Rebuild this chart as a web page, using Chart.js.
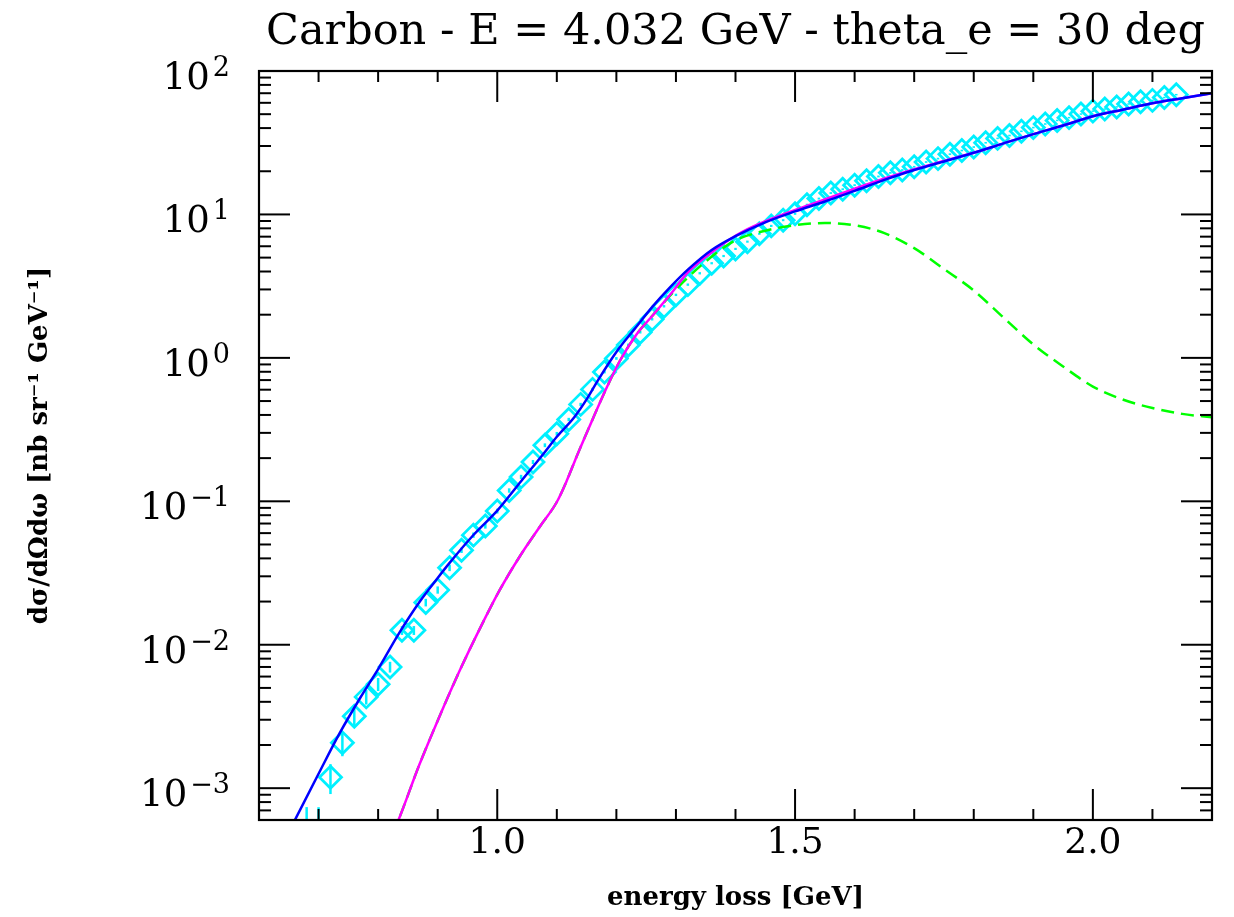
<!DOCTYPE html>
<html><head><meta charset="utf-8">
<script src="https://cdn.jsdelivr.net/npm/chart.js@4.4.1/dist/chart.umd.min.js"></script>
<style>html,body{margin:0;padding:0;background:#fff;}#wrap{width:1234px;height:917px;}</style>
</head><body><div id="wrap"><canvas id="c" width="1234" height="917"></canvas></div>
<script>
const titleText = 'Carbon - E = 4.032 GeV - theta_e = 30 deg';
const xTitleText = 'energy loss [GeV]';
const yTitleText = 'dσ/dΩdω [nb sr⁻¹ GeV⁻¹]';
const xMajorTicks = [1.0, 1.5, 2.0];
const xMinorTicks = [0.7, 0.8, 0.9, 1.1, 1.2, 1.3, 1.4, 1.6, 1.7, 1.8, 1.9, 2.1];
const yTickExponents = [-3, -2, -1, 0, 1, 2];
const yMinorMultipliers = [2, 3, 4, 5, 6, 7, 8, 9];

// measured cross sections (cyan diamonds)
const dataE = [0.68,0.70,0.72,0.74,0.76,0.78,0.80,0.82,0.84,0.86,0.88,0.90,0.92,0.94,0.96,0.98,
  1.00,1.02,1.04,1.06,1.08,1.10,1.12,1.14,1.16,1.18,1.20,1.22,1.24,1.26,1.28,1.30,1.32,1.34,1.36,1.38,
  1.40,1.42,1.44,1.46,1.48,1.50,1.52,1.54,1.56,1.58,1.60,1.62,1.64,1.66,1.68,1.70,1.72,1.74,1.76,1.78,
  1.80,1.82,1.84,1.86,1.88,1.90,1.92,1.94,1.96,1.98,2.00,2.02,2.04,2.06,2.08,2.10,2.12,2.14];
const dataXS = [3.98e-4,4.47e-4,1.19e-3,2.07e-3,3.17e-3,4.33e-3,5.31e-3,7.00e-3,1.26e-2,1.26e-2,1.97e-2,2.41e-2,3.44e-2,4.56e-2,5.81e-2,6.73e-2,
  8.55e-2,0.119,0.148,0.188,0.246,0.296,0.372,0.474,0.603,0.798,0.991,1.23,1.51,1.86,2.29,2.75,3.24,3.89,4.57,5.13,
  5.75,6.46,7.33,8.32,9.12,10.1,11.7,12.9,14.1,15.0,16.0,17.2,18.4,19.5,20.4,21.5,23.2,24.5,26.3,27.9,
  29.5,31.6,33.9,35.5,38.0,40.3,42.7,45.2,47.3,50.1,52.5,54.3,56.2,58.9,61.0,62.4,65.3,68.4];
const dataErr = [3.4e-4,2.9e-4,2.8e-4,4.0e-4,4.5e-4,5.0e-4,5.5e-4,6.0e-4,9.0e-4,9.0e-4,1.2e-3,1.4e-3,1.8e-3,2.0e-3,2.5e-3,2.8e-3,
  3.3e-3,4.2e-3,5.0e-3,6.0e-3,7.5e-3,8.5e-3,0.010,0.012,0.015,0.019,0.022,0.027,0.032,0.038,0.045,0.053,0.061,0.072,0.080,0.090,
  0.10,0.11,0.12,0.14,0.15,0.16,0.18,0.20,0.21,0.22,0.24,0.25,0.27,0.28,0.29,0.30,0.32,0.34,0.36,0.38,
  0.40,0.42,0.44,0.46,0.49,0.51,0.54,0.56,0.58,0.61,0.63,0.65,0.67,0.70,0.72,0.74,0.77,0.80];

// full model (blue)
const totalE  = [0.64,0.66,0.70,0.735,0.77,0.80,0.835,0.87,0.90,0.92,0.96,1.00,1.04,1.08,1.10,1.13,1.15,1.17,1.20,1.23,1.26,1.29,1.32,1.36,1.40,1.45,1.50,1.55,1.60,1.65,1.70,1.75,1.80,1.85,1.90,1.95,2.00,2.05,2.10,2.15,2.20];
const totalXS = [4.07e-4,5.96e-4,1.26e-3,2.40e-3,4.27e-3,6.76e-3,1.20e-2,2.00e-2,2.92e-2,3.72e-2,5.82e-2,8.61e-2,0.138,0.221,0.282,0.389,0.513,0.708,1.10,1.58,2.26,3.10,4.12,5.65,7.05,8.81,10.5,12.3,14.6,17.4,20.4,23.4,26.9,31.3,36.3,41.7,48.4,53.7,59.6,64.6,70.0];

// model without tail (magenta)
const altE  = [0.81,0.834,0.869,0.903,0.937,0.971,1.004,1.038,1.072,1.10,1.117,1.133,1.16,1.184,1.206,1.234,1.262,1.296,1.32,1.37,1.41,1.47,1.53,1.60,1.65,1.70,1.75,1.80,1.85,1.90,1.95,2.00,2.05,2.10,2.15,2.20];
const altXS = [3.55e-4,5.97e-4,1.45e-3,3.16e-3,6.61e-3,1.30e-2,2.40e-2,4.14e-2,6.70e-2,9.89e-2,0.140,0.204,0.372,0.624,0.955,1.46,2.00,2.95,3.95,5.85,7.50,9.66,11.9,15.1,17.8,20.7,23.6,26.9,31.3,36.3,41.7,48.4,53.7,59.6,64.6,70.0];

// quasi-elastic part (green dashed)
const qeE  = [0.81,0.834,0.869,0.903,0.937,0.971,1.004,1.038,1.072,1.10,1.117,1.133,1.16,1.184,1.206,1.234,1.262,1.30,1.35,1.40,1.45,1.50,1.55,1.60,1.65,1.70,1.75,1.80,1.85,1.90,1.95,2.00,2.05,2.10,2.15,2.20];
const qeXS = [3.55e-4,5.97e-4,1.45e-3,3.16e-3,6.61e-3,1.30e-2,2.40e-2,4.14e-2,6.70e-2,9.89e-2,0.140,0.204,0.372,0.624,0.955,1.46,2.00,3.00,4.70,6.60,7.70,8.41,8.71,8.41,7.41,5.82,4.17,2.95,1.91,1.24,0.871,0.631,0.513,0.447,0.407,0.385];

const toPts = (xs, ys) => xs.map((x, i) => ({x: x, y: ys[i]}));
const SERIF = "'DejaVu Serif', 'Liberation Serif', serif";

const framePlugin = {
  id: 'frame',
  beforeDatasetsDraw(chart) {
    const {ctx, chartArea: a, scales: {x, y}} = chart;
    ctx.save();
    ctx.beginPath(); ctx.rect(a.left, a.top, a.right - a.left, a.bottom - a.top); ctx.clip();
    ctx.strokeStyle = '#00f0ff'; ctx.lineWidth = 2.5;
    dataE.forEach((e, i) => {
      const px = x.getPixelForValue(e);
      const lo = Math.max(dataXS[i] - dataErr[i], 1e-6);
      const hi = dataXS[i] + dataErr[i];
      ctx.beginPath();
      ctx.moveTo(px, y.getPixelForValue(lo));
      ctx.lineTo(px, y.getPixelForValue(hi));
      ctx.stroke();
    });
    ctx.restore();
  },
  afterDatasetsDraw(chart) {
    const {ctx, chartArea: a, scales: {x, y}} = chart;
    ctx.save();
    ctx.strokeStyle = '#000'; ctx.lineWidth = 2.2; ctx.lineCap = 'butt';
    ctx.strokeRect(a.left, a.top, a.right - a.left, a.bottom - a.top);
    ctx.lineWidth = 2;
    const tick = (x1, y1, x2, y2) => { ctx.beginPath(); ctx.moveTo(x1, y1); ctx.lineTo(x2, y2); ctx.stroke(); };
    xMajorTicks.forEach(v => { const p = x.getPixelForValue(v); tick(p, a.bottom, p, a.bottom - 31); tick(p, a.top, p, a.top + 31); });
    xMinorTicks.forEach(v => { const p = x.getPixelForValue(v); tick(p, a.bottom, p, a.bottom - 11); tick(p, a.top, p, a.top + 11); });
    for (let n = -4; n <= 2; n++) {
      const major = Math.pow(10, n);
      if (major >= y.min && major <= y.max) {
        const p = y.getPixelForValue(major);
        tick(a.left, p, a.left + 31, p); tick(a.right, p, a.right - 31, p);
      }
      yMinorMultipliers.forEach(m => {
        const v = m * major;
        if (v > y.min && v < y.max) {
          const p = y.getPixelForValue(v);
          tick(a.left, p, a.left + 12, p); tick(a.right, p, a.right - 12, p);
        }
      });
    }
    // y tick labels: 10 with raised exponent
    ctx.fillStyle = '#000'; ctx.textBaseline = 'alphabetic'; ctx.textAlign = 'left';
    const rightEdge = a.left - 29;
    yTickExponents.forEach(n => {
      const p = y.getPixelForValue(Math.pow(10, n));
      const expo = n < 0 ? '\u2212' + Math.abs(n) : String(n);
      ctx.font = '37px ' + SERIF; const wb = ctx.measureText('10').width;
      ctx.font = '27px ' + SERIF; const we = ctx.measureText(expo).width;
      const x0 = rightEdge - wb - we - 3;
      ctx.font = '37px ' + SERIF; ctx.fillText('10', x0, p + 18);
      ctx.font = '27px ' + SERIF; ctx.fillText(expo, x0 + wb + 3, p + 5);
    });
    ctx.restore();
  }
};

new Chart(document.getElementById('c').getContext('2d'), {
  type: 'scatter',
  data: {
    datasets: [
      {label: 'model total', data: toPts(totalE, totalXS), showLine: true, borderColor: '#0000ff', borderWidth: 2.5, pointRadius: 0, cubicInterpolationMode: 'monotone', order: 0},
      {label: 'model', data: toPts(altE, altXS), showLine: true, borderColor: '#ff00ff', borderWidth: 2.5, pointRadius: 0, cubicInterpolationMode: 'monotone', order: 1},
      {label: 'QE', data: toPts(qeE, qeXS), showLine: true, borderColor: '#00ff00', borderWidth: 2.5, borderDash: [13, 7], pointRadius: 0, cubicInterpolationMode: 'monotone', order: 2},
      {label: 'data', data: toPts(dataE, dataXS), showLine: false, pointStyle: 'rectRot', pointRadius: 11, pointBorderWidth: 2.8, borderColor: '#00f0ff', pointBorderColor: '#00f0ff', backgroundColor: 'rgba(0,0,0,0)', pointBackgroundColor: 'rgba(0,0,0,0)', order: 3}
    ]
  },
  options: {
    responsive: false, animation: false, devicePixelRatio: 1,
    layout: {padding: {left: 0, right: 22, top: 0, bottom: 0}},
    plugins: {
      legend: {display: false}, tooltip: {enabled: false},
      title: {display: true, text: titleText, fullSize: false, color: '#000',
        font: {family: SERIF, size: 43, weight: 'normal'}, padding: {top: 7, bottom: 12.4}}
    },
    scales: {
      x: {type: 'linear', min: 0.6, max: 2.2,
        grid: {display: false}, border: {display: false},
        afterBuildTicks: s => { s.ticks = xMajorTicks.map(v => ({value: v})); },
        ticks: {callback: v => Number(v).toFixed(1), color: '#000', font: {family: SERIF, size: 36}, padding: -6, maxRotation: 0, autoSkip: false},
        title: {display: true, text: xTitleText, color: '#000', font: {family: SERIF, size: 26, weight: 'bold'}, padding: {top: 0, bottom: 3}},
        afterFit: s => { s.height = 97; }
      },
      y: {type: 'logarithmic', min: 6e-4, max: 100,
        grid: {display: false}, border: {display: false},
        ticks: {display: false},
        title: {display: true, text: yTitleText, color: '#000', font: {family: SERIF, size: 26, weight: 'bold'}, padding: {top: 25, bottom: 0}},
        afterFit: s => { s.width = 259; }
      }
    }
  },
  plugins: [framePlugin]
});
</script></body></html>
